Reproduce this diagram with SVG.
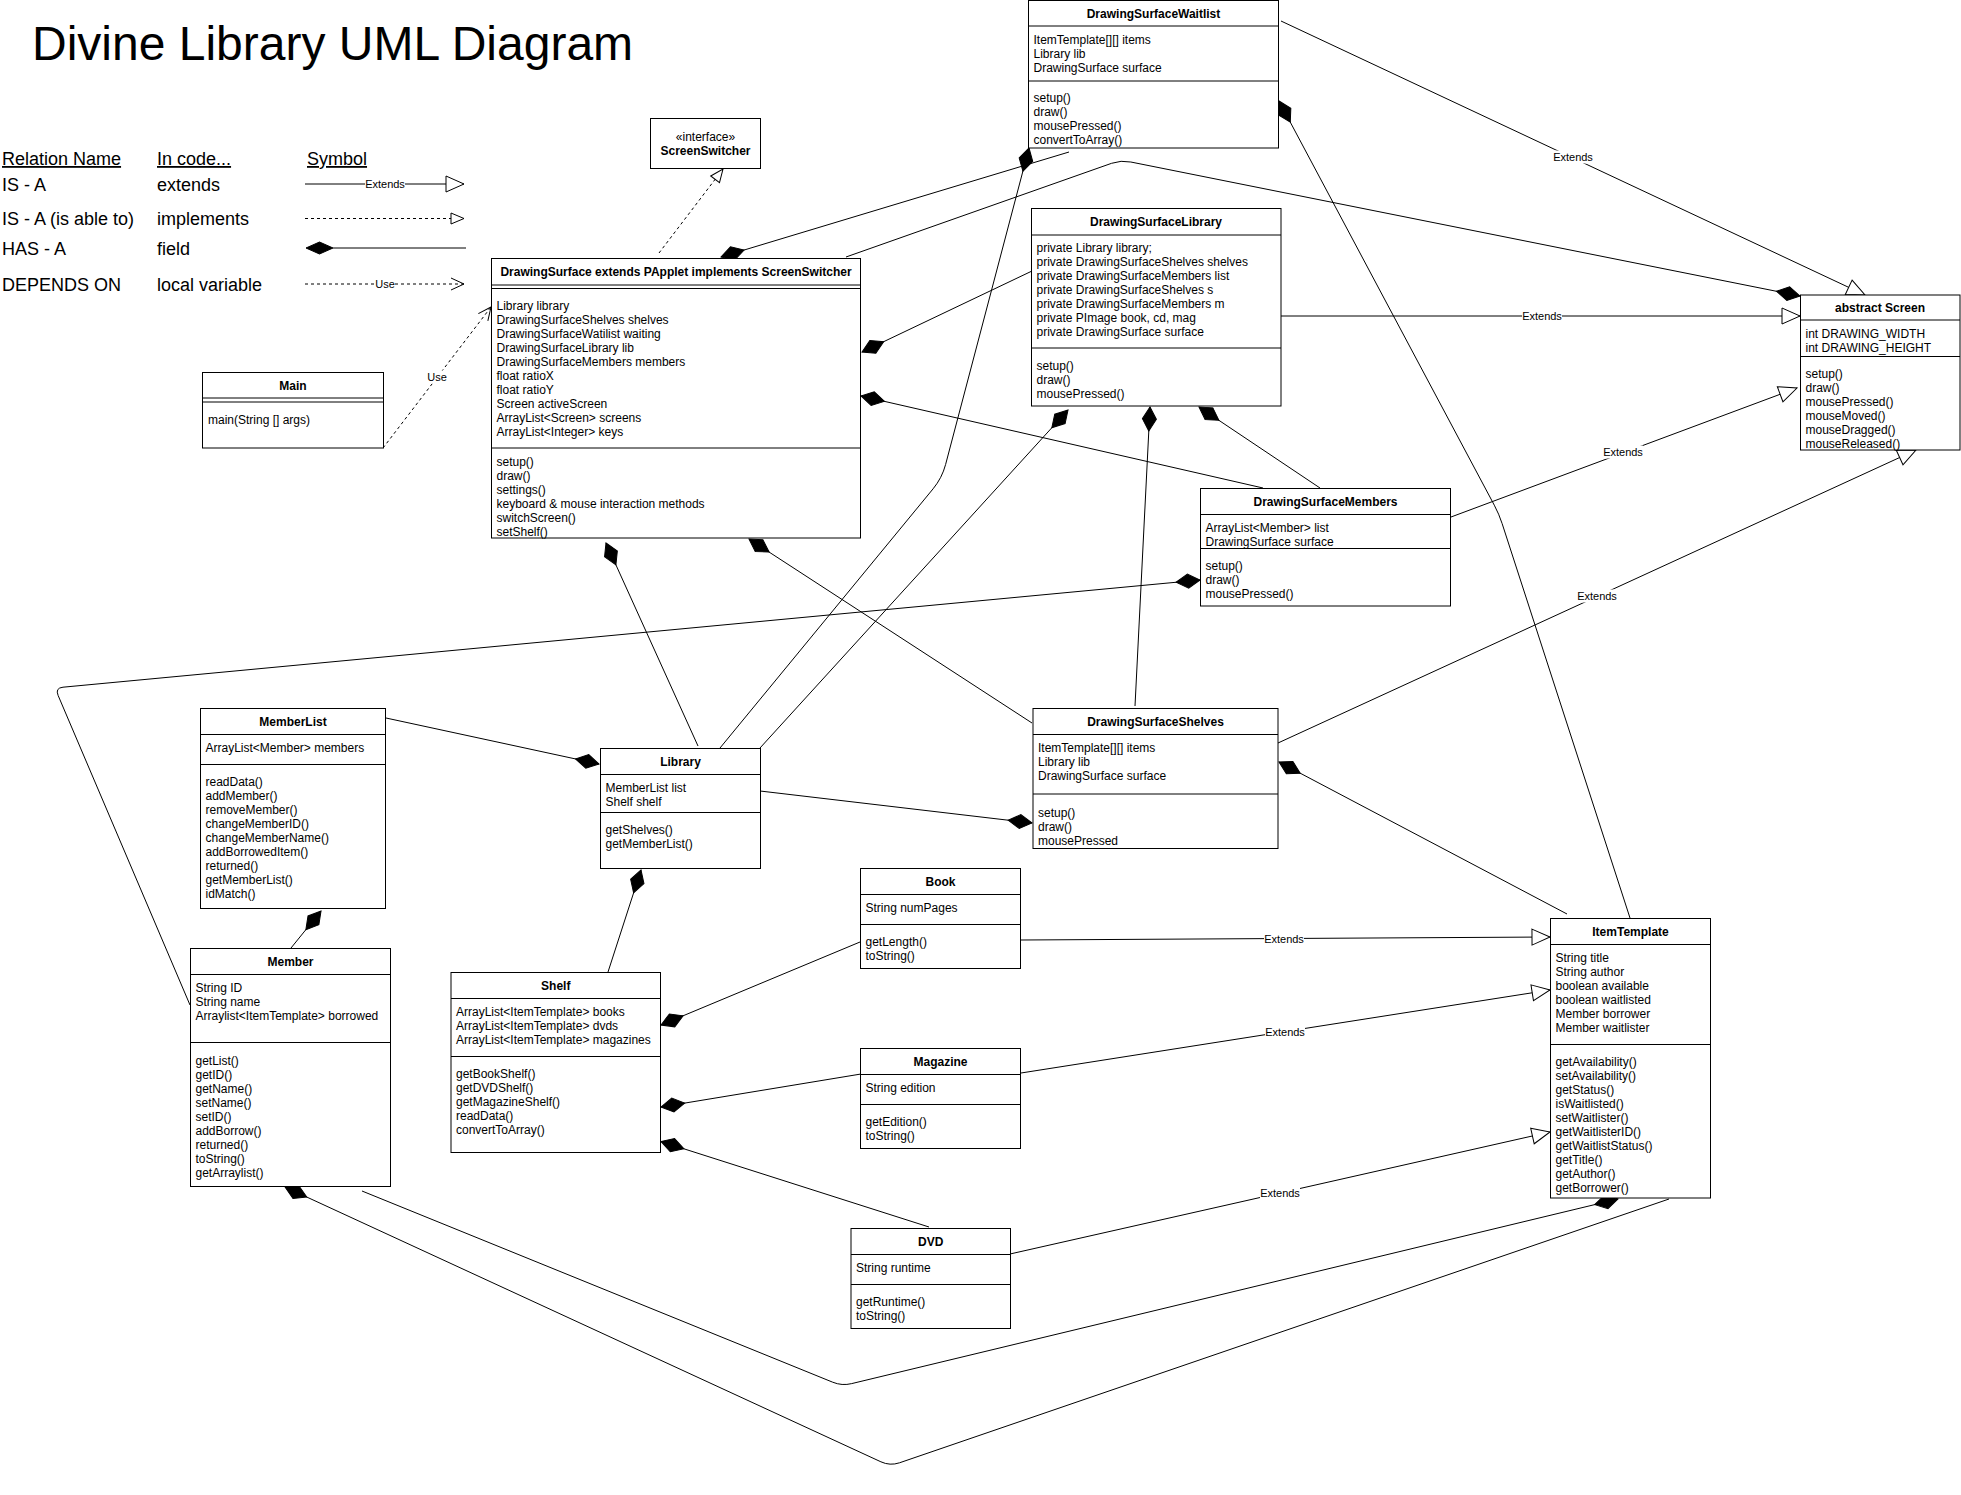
<svg xmlns="http://www.w3.org/2000/svg" width="1961" height="1495" viewBox="0 0 1961 1495">
<style>
.bg{fill:#fff}
.box{fill:#fff;stroke:#000;stroke-width:1}
.sep{stroke:#000;stroke-width:1}
.t{font-family:"Liberation Sans",Arial,Helvetica,sans-serif;font-size:12px;fill:#000}
.b{font-weight:bold;text-anchor:middle}
.c{text-anchor:middle}
.leg{font-family:"Liberation Sans",Arial,Helvetica,sans-serif;font-size:18px;fill:#000}
.u{text-decoration:underline}
.edge{fill:none;stroke:#000;stroke-width:1}
.dash{stroke-dasharray:3 3}
.lbl{font-family:"Liberation Sans",Arial,Helvetica,sans-serif;font-size:11px;fill:#000;text-anchor:middle}
.lblbg{fill:#fff}
</style>
<defs>
<marker id="diamond" markerUnits="userSpaceOnUse" markerWidth="26" markerHeight="16" refX="24" refY="7" orient="auto" overflow="visible"><path d="M0,7 L12,0 L24,7 L12,14 Z" fill="#000" stroke="#000" stroke-width="1"/></marker>
<marker id="tri" markerUnits="userSpaceOnUse" markerWidth="20" markerHeight="18" refX="18" refY="8" orient="auto" overflow="visible"><path d="M0,0 L18,8 L0,16 Z" fill="#fff" stroke="#000" stroke-width="1"/></marker>
<marker id="tris" markerUnits="userSpaceOnUse" markerWidth="15" markerHeight="13" refX="13" refY="5.5" orient="auto" overflow="visible"><path d="M0,0 L13,5.5 L0,11 Z" fill="#fff" stroke="#000" stroke-width="1"/></marker>
<marker id="open" markerUnits="userSpaceOnUse" markerWidth="15" markerHeight="14" refX="13" refY="6" orient="auto" overflow="visible"><path d="M0,0 L13,6 L0,12" fill="none" stroke="#000" stroke-width="1"/></marker>
</defs>
<rect class="bg" x="0" y="0" width="1961" height="1495"/>

<g id="title">
<text x="32" y="60" font-family="Liberation Sans, Arial, Helvetica, sans-serif" font-size="48" fill="#000">Divine Library UML Diagram</text>
</g>

<g id="legend">
<text class="leg u" x="2" y="165">Relation Name</text>
<text class="leg u" x="157" y="165">In code...</text>
<text class="leg u" x="307" y="165">Symbol</text>
<text class="leg" x="2" y="191">IS - A</text>
<text class="leg" x="157" y="191">extends</text>
<text class="leg" x="2" y="225">IS - A (is able to)</text>
<text class="leg" x="157" y="225">implements</text>
<text class="leg" x="2" y="255">HAS - A</text>
<text class="leg" x="157" y="255">field</text>
<text class="leg" x="2" y="291">DEPENDS ON</text>
<text class="leg" x="157" y="291">local variable</text>
<path class="edge" d="M305,184 L464,184" marker-end="url(#tri)"/>
<rect class="lblbg" x="365" y="177.5" width="40" height="13"/>
<text class="lbl" x="385" y="188">Extends</text>
<path class="edge dash" d="M305,218.5 L464,218.5" marker-end="url(#tris)"/>
<path class="edge" d="M333,248 L466,248"/>
<polygon points="306,248 319.5,242 333,248 319.5,254" fill="#000" stroke="#000"/>
<path class="edge dash" d="M305,284 L464,284" marker-end="url(#open)"/>
<rect class="lblbg" x="375" y="277.5" width="20" height="13"/>
<text class="lbl" x="385" y="288">Use</text>
</g>

<g id="connectors">
<path class="edge dash" d="M383,448 L491,307" marker-end="url(#open)"/>
<path class="edge dash" d="M659,253 L723,169" marker-end="url(#tris)"/>
<path class="edge" d="M1069,152 L721,257" marker-end="url(#diamond)"/>
<path class="edge" d="M846,257 L1111.6,163.3 Q1121,160 1130.8,162 L1800,296" marker-end="url(#diamond)"/>
<path class="edge" d="M1281,21 L1865,295" marker-end="url(#tri)"/>
<path class="edge" d="M1630,918 L1502.1,523.5 Q1499,514 1494.3,505.2 L1279,101" marker-end="url(#diamond)"/>
<path class="edge" d="M1032,271 L862,352" marker-end="url(#diamond)"/>
<path class="edge" d="M1281,316 L1800,316" marker-end="url(#tri)"/>
<path class="edge" d="M1263,488 L861,396" marker-end="url(#diamond)"/>
<path class="edge" d="M1320,488 L1199,407" marker-end="url(#diamond)"/>
<path class="edge" d="M1451,517 L1797,388" marker-end="url(#tri)"/>
<path class="edge" d="M1278,743 L1916,450" marker-end="url(#tri)"/>
<path class="edge" d="M1032,723 L749,539" marker-end="url(#diamond)"/>
<path class="edge" d="M1135,706 L1150,407" marker-end="url(#diamond)"/>
<path class="edge" d="M698,746 L606,543" marker-end="url(#diamond)"/>
<path class="edge" d="M720,748 L933.1,488.8 Q942,478 945.6,464.5 L1029,148" marker-end="url(#diamond)"/>
<path class="edge" d="M760,748 L1068,410" marker-end="url(#diamond)"/>
<path class="edge" d="M190,1005 L58.1,695.4 Q55,688 63,687.2 L1200,580" marker-end="url(#diamond)"/>
<path class="edge" d="M386,718 L599,764" marker-end="url(#diamond)"/>
<path class="edge" d="M291,948 L321,911" marker-end="url(#diamond)"/>
<path class="edge" d="M608,972 L641,870" marker-end="url(#diamond)"/>
<path class="edge" d="M760,791 L1032,823" marker-end="url(#diamond)"/>
<path class="edge" d="M1567,914 L1279,762" marker-end="url(#diamond)"/>
<path class="edge" d="M860,942 L661,1025" marker-end="url(#diamond)"/>
<path class="edge" d="M861,1074 L661,1107" marker-end="url(#diamond)"/>
<path class="edge" d="M929,1227 L661,1141.5" marker-end="url(#diamond)"/>
<path class="edge" d="M1021,940 L1550,937" marker-end="url(#tri)"/>
<path class="edge" d="M1021,1073 L1550,990" marker-end="url(#tri)"/>
<path class="edge" d="M1010,1254 L1550,1132" marker-end="url(#tri)"/>
<path class="edge" d="M362,1191 L832.7,1382.2 Q842,1386 851.7,1383.6 L1618,1199" marker-end="url(#diamond)"/>
<path class="edge" d="M1669,1199 L899.5,1462.8 Q890,1466 880.9,1461.8 L285,1187" marker-end="url(#diamond)"/>
<rect class="lblbg" x="427" y="370.5" width="20" height="13"/>
<text class="lbl" x="437" y="381">Use</text>
<rect class="lblbg" x="1553" y="150.5" width="40" height="13"/>
<text class="lbl" x="1573" y="161">Extends</text>
<rect class="lblbg" x="1522" y="309.5" width="40" height="13"/>
<text class="lbl" x="1542" y="320">Extends</text>
<rect class="lblbg" x="1603" y="445.5" width="40" height="13"/>
<text class="lbl" x="1623" y="456">Extends</text>
<rect class="lblbg" x="1577" y="589.5" width="40" height="13"/>
<text class="lbl" x="1597" y="600">Extends</text>
<rect class="lblbg" x="1264" y="932" width="40" height="13"/>
<text class="lbl" x="1284" y="942.5">Extends</text>
<rect class="lblbg" x="1265" y="1025" width="40" height="13"/>
<text class="lbl" x="1285" y="1035.5">Extends</text>
<rect class="lblbg" x="1260" y="1186.5" width="40" height="13"/>
<text class="lbl" x="1280" y="1197">Extends</text>
</g>

<g id="node-screenswitcher">
<rect class="box" x="650.5" y="118.5" width="110" height="50"/>
<text class="t c" x="705.5" y="141">«interface»</text>
<text class="t b" x="705.5" y="155">ScreenSwitcher</text>
</g>

<g id="node-main">
<rect class="box" x="202.5" y="372.5" width="181" height="75.5"/>
<line class="sep" x1="202.5" y1="398" x2="383.5" y2="398"/>
<line class="sep" x1="202.5" y1="402" x2="383.5" y2="402"/>
<text class="t b" x="293" y="390">Main</text>
<text class="t" x="208" y="424">main(String [] args)</text>
</g>

<g id="node-drawingsurface">
<rect class="box" x="491.5" y="258.5" width="369" height="279.5"/>
<line class="sep" x1="491.5" y1="285" x2="860.5" y2="285"/>
<line class="sep" x1="491.5" y1="288.5" x2="860.5" y2="288.5"/>
<line class="sep" x1="491.5" y1="448" x2="860.5" y2="448"/>
<text class="t b" x="676" y="276">DrawingSurface extends PApplet implements ScreenSwitcher</text>
<text class="t">
<tspan x="496.5" y="310">Library library</tspan>
<tspan x="496.5" y="324">DrawingSurfaceShelves shelves</tspan>
<tspan x="496.5" y="338">DrawingSurfaceWatilist waiting</tspan>
<tspan x="496.5" y="352">DrawingSurfaceLibrary lib</tspan>
<tspan x="496.5" y="366">DrawingSurfaceMembers members</tspan>
<tspan x="496.5" y="380">float ratioX</tspan>
<tspan x="496.5" y="394">float ratioY</tspan>
<tspan x="496.5" y="408">Screen activeScreen</tspan>
<tspan x="496.5" y="422">ArrayList&lt;Screen&gt; screens</tspan>
<tspan x="496.5" y="436">ArrayList&lt;Integer&gt; keys</tspan>
<tspan x="496.5" y="466">setup()</tspan>
<tspan x="496.5" y="480">draw()</tspan>
<tspan x="496.5" y="494">settings()</tspan>
<tspan x="496.5" y="508">keyboard &amp; mouse interaction methods</tspan>
<tspan x="496.5" y="522">switchScreen()</tspan>
<tspan x="496.5" y="536">setShelf()</tspan>
</text>
</g>

<g id="node-drawingsurfacewaitlist">
<rect class="box" x="1028.5" y="0.5" width="250" height="147.5"/>
<line class="sep" x1="1028.5" y1="26" x2="1278.5" y2="26"/>
<line class="sep" x1="1028.5" y1="81" x2="1278.5" y2="81"/>
<text class="t b" x="1153.5" y="17.5">DrawingSurfaceWaitlist</text>
<text class="t">
<tspan x="1033.5" y="44">ItemTemplate[][] items</tspan>
<tspan x="1033.5" y="58">Library lib</tspan>
<tspan x="1033.5" y="72">DrawingSurface surface</tspan>
<tspan x="1033.5" y="101.5">setup()</tspan>
<tspan x="1033.5" y="115.5">draw()</tspan>
<tspan x="1033.5" y="129.5">mousePressed()</tspan>
<tspan x="1033.5" y="143.5">convertToArray()</tspan>
</text>
</g>

<g id="node-drawingsurfacelibrary">
<rect class="box" x="1031.5" y="208.5" width="249.5" height="197.5"/>
<line class="sep" x1="1031.5" y1="235" x2="1281" y2="235"/>
<line class="sep" x1="1031.5" y1="348" x2="1281" y2="348"/>
<text class="t b" x="1156" y="226">DrawingSurfaceLibrary</text>
<text class="t">
<tspan x="1036.5" y="252">private Library library;</tspan>
<tspan x="1036.5" y="266">private DrawingSurfaceShelves shelves</tspan>
<tspan x="1036.5" y="280">private DrawingSurfaceMembers list</tspan>
<tspan x="1036.5" y="294">private DrawingSurfaceShelves s</tspan>
<tspan x="1036.5" y="308">private DrawingSurfaceMembers m</tspan>
<tspan x="1036.5" y="322">private PImage book, cd, mag</tspan>
<tspan x="1036.5" y="336">private DrawingSurface surface</tspan>
<tspan x="1036.5" y="370">setup()</tspan>
<tspan x="1036.5" y="384">draw()</tspan>
<tspan x="1036.5" y="398">mousePressed()</tspan>
</text>
</g>

<g id="node-abstractscreen">
<rect class="box" x="1800.5" y="295" width="159.5" height="155"/>
<line class="sep" x1="1800.5" y1="320" x2="1960" y2="320"/>
<line class="sep" x1="1800.5" y1="356.5" x2="1960" y2="356.5"/>
<text class="t b" x="1880" y="311.5">abstract Screen</text>
<text class="t">
<tspan x="1805.5" y="337.5">int DRAWING_WIDTH</tspan>
<tspan x="1805.5" y="351.5">int DRAWING_HEIGHT</tspan>
<tspan x="1805.5" y="377.5">setup()</tspan>
<tspan x="1805.5" y="391.5">draw()</tspan>
<tspan x="1805.5" y="405.5">mousePressed()</tspan>
<tspan x="1805.5" y="419.5">mouseMoved()</tspan>
<tspan x="1805.5" y="433.5">mouseDragged()</tspan>
<tspan x="1805.5" y="447.5">mouseReleased()</tspan>
</text>
</g>

<g id="node-drawingsurfacemembers">
<rect class="box" x="1200.5" y="488.5" width="250" height="117.5"/>
<line class="sep" x1="1200.5" y1="514.5" x2="1450.5" y2="514.5"/>
<line class="sep" x1="1200.5" y1="548.5" x2="1450.5" y2="548.5"/>
<text class="t b" x="1325.5" y="506">DrawingSurfaceMembers</text>
<text class="t">
<tspan x="1205.5" y="532">ArrayList&lt;Member&gt; list</tspan>
<tspan x="1205.5" y="546">DrawingSurface surface</tspan>
<tspan x="1205.5" y="570">setup()</tspan>
<tspan x="1205.5" y="584">draw()</tspan>
<tspan x="1205.5" y="598">mousePressed()</tspan>
</text>
</g>

<g id="node-drawingsurfaceshelves">
<rect class="box" x="1033" y="708.5" width="245" height="140"/>
<line class="sep" x1="1033" y1="734.5" x2="1278" y2="734.5"/>
<line class="sep" x1="1033" y1="794" x2="1278" y2="794"/>
<text class="t b" x="1155.5" y="725.5">DrawingSurfaceShelves</text>
<text class="t">
<tspan x="1038" y="751.5">ItemTemplate[][] items</tspan>
<tspan x="1038" y="765.5">Library lib</tspan>
<tspan x="1038" y="779.5">DrawingSurface surface</tspan>
<tspan x="1038" y="816.5">setup()</tspan>
<tspan x="1038" y="830.5">draw()</tspan>
<tspan x="1038" y="844.5">mousePressed</tspan>
</text>
</g>

<g id="node-memberlist">
<rect class="box" x="200.5" y="708.5" width="185" height="200"/>
<line class="sep" x1="200.5" y1="734.5" x2="385.5" y2="734.5"/>
<line class="sep" x1="200.5" y1="764.5" x2="385.5" y2="764.5"/>
<text class="t b" x="293" y="725.5">MemberList</text>
<text class="t">
<tspan x="205.5" y="752">ArrayList&lt;Member&gt; members</tspan>
<tspan x="205.5" y="786">readData()</tspan>
<tspan x="205.5" y="800">addMember()</tspan>
<tspan x="205.5" y="814">removeMember()</tspan>
<tspan x="205.5" y="828">changeMemberID()</tspan>
<tspan x="205.5" y="842">changeMemberName()</tspan>
<tspan x="205.5" y="856">addBorrowedItem()</tspan>
<tspan x="205.5" y="870">returned()</tspan>
<tspan x="205.5" y="884">getMemberList()</tspan>
<tspan x="205.5" y="898">idMatch()</tspan>
</text>
</g>

<g id="node-library">
<rect class="box" x="600.5" y="748.5" width="160" height="120"/>
<line class="sep" x1="600.5" y1="774.5" x2="760.5" y2="774.5"/>
<line class="sep" x1="600.5" y1="812.5" x2="760.5" y2="812.5"/>
<text class="t b" x="680.5" y="765.5">Library</text>
<text class="t">
<tspan x="605.5" y="791.5">MemberList list</tspan>
<tspan x="605.5" y="805.5">Shelf shelf</tspan>
<tspan x="605.5" y="834">getShelves()</tspan>
<tspan x="605.5" y="848">getMemberList()</tspan>
</text>
</g>

<g id="node-member">
<rect class="box" x="190.5" y="948.5" width="200" height="238"/>
<line class="sep" x1="190.5" y1="974.5" x2="390.5" y2="974.5"/>
<line class="sep" x1="190.5" y1="1042.5" x2="390.5" y2="1042.5"/>
<text class="t b" x="290.5" y="965.5">Member</text>
<text class="t">
<tspan x="195.5" y="992">String ID</tspan>
<tspan x="195.5" y="1006">String name</tspan>
<tspan x="195.5" y="1020">Arraylist&lt;ItemTemplate&gt; borrowed</tspan>
<tspan x="195.5" y="1064.5">getList()</tspan>
<tspan x="195.5" y="1078.5">getID()</tspan>
<tspan x="195.5" y="1092.5">getName()</tspan>
<tspan x="195.5" y="1106.5">setName()</tspan>
<tspan x="195.5" y="1120.5">setID()</tspan>
<tspan x="195.5" y="1134.5">addBorrow()</tspan>
<tspan x="195.5" y="1148.5">returned()</tspan>
<tspan x="195.5" y="1162.5">toString()</tspan>
<tspan x="195.5" y="1176.5">getArraylist()</tspan>
</text>
</g>

<g id="node-shelf">
<rect class="box" x="451" y="972.5" width="209.5" height="180"/>
<line class="sep" x1="451" y1="998.5" x2="660.5" y2="998.5"/>
<line class="sep" x1="451" y1="1056.5" x2="660.5" y2="1056.5"/>
<text class="t b" x="555.75" y="989.5">Shelf</text>
<text class="t">
<tspan x="456" y="1016">ArrayList&lt;ItemTemplate&gt; books</tspan>
<tspan x="456" y="1030">ArrayList&lt;ItemTemplate&gt; dvds</tspan>
<tspan x="456" y="1044">ArrayList&lt;ItemTemplate&gt; magazines</tspan>
<tspan x="456" y="1078">getBookShelf()</tspan>
<tspan x="456" y="1092">getDVDShelf()</tspan>
<tspan x="456" y="1106">getMagazineShelf()</tspan>
<tspan x="456" y="1120">readData()</tspan>
<tspan x="456" y="1134">convertToArray()</tspan>
</text>
</g>

<g id="node-book">
<rect class="box" x="860.5" y="868.5" width="160" height="100"/>
<line class="sep" x1="860.5" y1="894.5" x2="1020.5" y2="894.5"/>
<line class="sep" x1="860.5" y1="924.5" x2="1020.5" y2="924.5"/>
<text class="t b" x="940.5" y="886">Book</text>
<text class="t">
<tspan x="865.5" y="912">String numPages</tspan>
<tspan x="865.5" y="946">getLength()</tspan>
<tspan x="865.5" y="960">toString()</tspan>
</text>
</g>

<g id="node-magazine">
<rect class="box" x="860.5" y="1048.5" width="160" height="100"/>
<line class="sep" x1="860.5" y1="1074.5" x2="1020.5" y2="1074.5"/>
<line class="sep" x1="860.5" y1="1104.5" x2="1020.5" y2="1104.5"/>
<text class="t b" x="940.5" y="1066">Magazine</text>
<text class="t">
<tspan x="865.5" y="1092">String edition</tspan>
<tspan x="865.5" y="1126">getEdition()</tspan>
<tspan x="865.5" y="1140">toString()</tspan>
</text>
</g>

<g id="node-dvd">
<rect class="box" x="851" y="1228.5" width="159.5" height="100"/>
<line class="sep" x1="851" y1="1254.5" x2="1010.5" y2="1254.5"/>
<line class="sep" x1="851" y1="1284.5" x2="1010.5" y2="1284.5"/>
<text class="t b" x="930.75" y="1246">DVD</text>
<text class="t">
<tspan x="856" y="1272">String runtime</tspan>
<tspan x="856" y="1306">getRuntime()</tspan>
<tspan x="856" y="1320">toString()</tspan>
</text>
</g>

<g id="node-itemtemplate">
<rect class="box" x="1550.5" y="918.5" width="160" height="279.5"/>
<line class="sep" x1="1550.5" y1="944.5" x2="1710.5" y2="944.5"/>
<line class="sep" x1="1550.5" y1="1044.5" x2="1710.5" y2="1044.5"/>
<text class="t b" x="1630.5" y="936">ItemTemplate</text>
<text class="t">
<tspan x="1555.5" y="962">String title</tspan>
<tspan x="1555.5" y="976">String author</tspan>
<tspan x="1555.5" y="990">boolean available</tspan>
<tspan x="1555.5" y="1004">boolean waitlisted</tspan>
<tspan x="1555.5" y="1018">Member borrower</tspan>
<tspan x="1555.5" y="1032">Member waitlister</tspan>
<tspan x="1555.5" y="1066">getAvailability()</tspan>
<tspan x="1555.5" y="1080">setAvailability()</tspan>
<tspan x="1555.5" y="1094">getStatus()</tspan>
<tspan x="1555.5" y="1108">isWaitlisted()</tspan>
<tspan x="1555.5" y="1122">setWaitlister()</tspan>
<tspan x="1555.5" y="1136">getWaitlisterID()</tspan>
<tspan x="1555.5" y="1150">getWaitlistStatus()</tspan>
<tspan x="1555.5" y="1164">getTitle()</tspan>
<tspan x="1555.5" y="1178">getAuthor()</tspan>
<tspan x="1555.5" y="1192">getBorrower()</tspan>
</text>
</g>
</svg>
